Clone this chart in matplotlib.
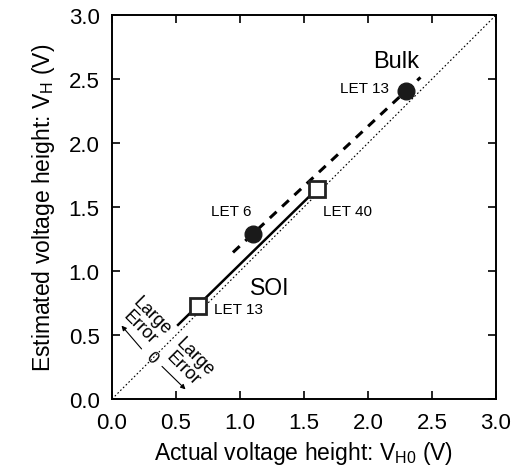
import numpy as np
import matplotlib
matplotlib.use("Agg")
import matplotlib.pyplot as plt

plt.rcParams['font.family'] = ['Liberation Sans', 'DejaVu Sans']
plt.rcParams['mathtext.fontset'] = 'custom'
plt.rcParams['mathtext.rm'] = 'Liberation Sans'

# data
bulk_x = [1.1, 2.3]
bulk_y = [1.29, 2.41]
bulk_fit_x = [0.945, 2.41]

soi_x = [0.67, 1.6]
soi_y = [0.73, 1.64]
soi_fit_x = [0.516, 1.6]

fig = plt.figure(figsize=(5.21, 4.77), dpi=100)
ax = fig.add_axes([0.215, 0.1614, 0.737, 0.805])

# ideal line
ax.plot([0, 3], [0, 3], color="black", lw=0.8, ls=(0, (1.5, 2)))

# bulk fit
p = np.polyfit(bulk_x, bulk_y, 1)
ax.plot(bulk_fit_x, np.polyval(p, bulk_fit_x), color="black", lw=2.2, ls=(0, (3, 2.5)))
ax.plot(bulk_x, bulk_y, "o", color="#1a1a1a", ms=12)

# soi fit
p2 = np.polyfit(soi_x, soi_y, 1)
ax.plot(soi_fit_x, np.polyval(p2, soi_fit_x), color="black", lw=1.8)
ax.plot(soi_x, soi_y, "s", mfc="white", mec="#222222", mew=2, ms=11.5)

fs = 11
ax.text(0.80, 0.70, "LET 13", fontsize=fs, va="center")
ax.text(1.65, 1.47, "LET 40", fontsize=fs, va="center")
ax.text(0.93, 1.47, "LET 6", fontsize=fs, va="center", ha="center")
ax.text(1.97, 2.43, "LET 13", fontsize=fs, va="center", ha="center")
ax.text(2.22, 2.64, "Bulk", fontsize=17, va="center", ha="center")
ax.text(1.23, 0.87, "SOI", fontsize=16.5, va="center", ha="center")

# large error arrows
ax.text(0.31, 0.33, "0", fontsize=12, rotation=-45, ha="center", va="center",
        rotation_mode="anchor")
ax.annotate("", xy=(0.06, 0.59), xytext=(0.245, 0.375),
            arrowprops=dict(arrowstyle="-|>", lw=0.8, color="black", mutation_scale=7))
ax.annotate("", xy=(0.59, 0.06), xytext=(0.375, 0.27),
            arrowprops=dict(arrowstyle="-|>", lw=0.8, color="black", mutation_scale=7))
ax.text(0.265, 0.61, "Large\nError", fontsize=13, rotation=-45, ha="center", va="center",
        linespacing=0.95, rotation_mode="anchor")
ax.text(0.60, 0.29, "Large\nError", fontsize=13, rotation=-45, ha="center", va="center",
        linespacing=0.95, rotation_mode="anchor")

ax.set_xlim(0, 3)
ax.set_ylim(0, 3)
ticks = [0.0, 0.5, 1.0, 1.5, 2.0, 2.5, 3.0]
ax.set_xticks(ticks)
ax.set_yticks(ticks)
ax.set_xticklabels([f"{t:.1f}" for t in ticks])
ax.set_yticklabels([f"{t:.1f}" for t in ticks])
ax.tick_params(direction="in", top=True, right=True, labelsize=16, length=6, width=1.2, pad=9)
for s in ax.spines.values():
    s.set_linewidth(1.4)

ax.set_xlabel(r"Actual voltage height: V$_\mathregular{H0}$ (V)", fontsize=16.5, labelpad=5)
ax.set_ylabel(r"Estimated voltage height: V$_\mathregular{H}$ (V)", fontsize=16.5, labelpad=8)

fig.savefig("out.png", dpi=100)
